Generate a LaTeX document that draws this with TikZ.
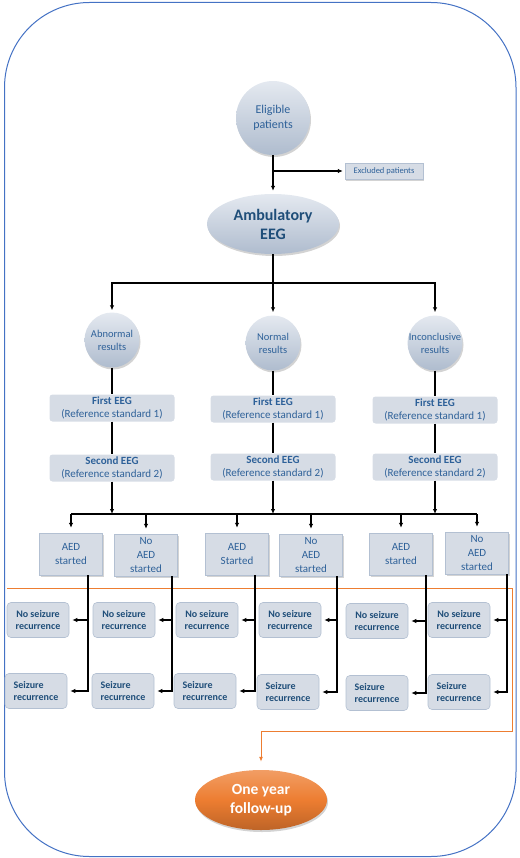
\documentclass[tikz,border=0pt]{standalone}
\usepackage{fontspec}
\setmainfont{Carlito}
\usetikzlibrary{shapes.geometric,arrows.meta,shadows}
\definecolor{boxfill}{HTML}{D6DCE5}
\definecolor{boxline}{HTML}{B3C0D2}
\definecolor{roundtop}{HTML}{E4E9F0}
\definecolor{roundbot}{HTML}{AFBCCE}
\definecolor{darkblue}{HTML}{1F4E79}
\definecolor{midblue}{HTML}{2E6199}
\definecolor{followorange}{HTML}{ED7D31}
\definecolor{framecol}{HTML}{4472C4}
\begin{document}
\begin{tikzpicture}[x=1pt, y=-1pt,
  every node/.style = {align=center, inner sep=0pt, text=darkblue},
  shade/.style = {drop shadow={opacity=0.35, shadow xshift=1pt, shadow yshift=-2pt}},
  round/.style = {shape=circle, shade, inner sep=-6pt, minimum size=55pt,
    top color=roundtop, bottom color=roundbot, text=midblue,
    font=\fontsize{10.5}{13}\selectfont},
  oval/.style = {shape=ellipse, shade, minimum width=132pt, minimum height=60pt,
    top color=roundtop, bottom color=roundbot},
  refbox/.style = {rectangle, rounded corners=3pt, fill=boxfill,
    minimum width=125pt, minimum height=27pt, text=midblue,
    font=\fontsize{11}{13.5}\selectfont},
  aedbox/.style = {rectangle, shade, fill=boxfill, draw=boxline, line width=0.4pt,
    minimum width=63pt, minimum height=42pt, text=midblue,
    font=\fontsize{11}{14}\selectfont},
  outbox/.style = {rectangle, rounded corners=4pt, fill=boxfill, draw=boxline,
    line width=0.6pt, minimum width=62pt, minimum height=35pt,
    font=\bfseries\fontsize{10}{12}\selectfont},
  seizbox/.style = {outbox, align=left},
  link/.style = {line width=1.1pt},
  arr/.style = {link, -{Latex[length=5pt,width=4.5pt]}}]
\useasboundingbox (0,0) rectangle (519,858);
\draw[framecol, line width=1pt, rounded corners=85pt] (4.5,2.5) rectangle (516,856.5);

\node[round, minimum size=74pt, font=\fontsize{12}{14.5}\selectfont] (elig) at (273,118) {Eligible\\patients};
\node[rectangle, shade, fill=boxfill, draw=boxline, line width=0.4pt,
  minimum width=78pt, minimum height=16pt, text=midblue,
  font=\fontsize{8.5}{10}\selectfont] (excl) at (384,171) {Excluded patients};
\node[oval, font=\bfseries\fontsize{16}{19}\selectfont] (amb) at (273,224) {Ambulatory\\EEG};

\node[round] (abn) at (112,340) {Abnormal\\results};
\node[round] (norm) at (273,343) {Normal\\results};
\node[round] (inc) at (435,343) {Inconclusive\\results};

\node[refbox] (first1) at (112,408) {\textbf{First EEG}\\(Reference standard 1)};
\node[refbox] (first2) at (273,409) {\textbf{First EEG}\\(Reference standard 1)};
\node[refbox] (first3) at (435,410) {\textbf{First EEG}\\(Reference standard 1)};
\node[refbox] (second1) at (112,468) {\textbf{Second EEG}\\(Reference standard 2)};
\node[refbox] (second2) at (273,467) {\textbf{Second EEG}\\(Reference standard 2)};
\node[refbox] (second3) at (435,467) {\textbf{Second EEG}\\(Reference standard 2)};

\node[aedbox] (aed1) at (71,554) {AED\\started};
\node[aedbox] (aed2) at (146,555) {No\\AED\\started};
\node[aedbox] (aed3) at (237,554) {AED\\Started};
\node[aedbox] (aed4) at (311,555) {No\\AED\\started};
\node[aedbox] (aed5) at (401,554) {AED\\started};
\node[aedbox] (aed6) at (477,553) {No\\AED\\started};

\node[outbox] (noseiz1) at (38,620) {No seizure\\recurrence};
\node[outbox] (noseiz2) at (124,620) {No seizure\\recurrence};
\node[outbox] (noseiz3) at (207,620) {No seizure\\recurrence};
\node[outbox] (noseiz4) at (290,620) {No seizure\\recurrence};
\node[outbox] (noseiz5) at (377,621) {No seizure\\recurrence};
\node[outbox] (noseiz6) at (459,620) {No seizure\\recurrence};
\node[seizbox] (seiz1) at (36,691) {Seizure\\recurrence};
\node[seizbox] (seiz2) at (123,691) {Seizure\\recurrence};
\node[seizbox] (seiz3) at (205,691) {Seizure\\recurrence};
\node[seizbox] (seiz4) at (288,692) {Seizure\\recurrence};
\node[seizbox] (seiz5) at (377,693) {Seizure\\recurrence};
\node[seizbox] (seiz6) at (459,692) {Seizure\\recurrence};

\node[oval, top color=followorange!75!white, bottom color=followorange!80!black,
  middle color=followorange, text=white,
  font=\bfseries\fontsize{15.5}{19}\selectfont] (followup) at (261,800) {One year\\follow-up};

\coordinate (split) at (273,283);
\coordinate (join) at (273,514);
\coordinate (c1) at (88,692);
\coordinate (c2) at (172,692);
\coordinate (c3) at (255,692);
\coordinate (c4) at (337,692);
\coordinate (c5) at (426,692);
\coordinate (c6) at (507,692);
\coordinate (oleft) at (7,588);
\coordinate (oright) at (512,731);

\draw[arr, shorten >=3pt] (elig) -- (amb);
\draw[arr, shorten >=2pt] (elig.south |- excl.west) -- (excl.west);
\draw[link] (amb) -- (split);
\draw[arr, shorten >=3pt] (split) -- (norm);
\draw[arr, shorten >=2pt] (split) -| (abn);
\draw[arr, shorten >=3pt] (split) -| (inc);

\draw[link] (abn) -- (first1) -- (second1);
\draw[link] (norm) -- (first2) -- (second2);
\draw[link] (inc) -- (first3) -- (second3);
\draw[arr] (second1) -- (second1 |- join);
\draw[arr] (second2) -- (join);
\draw[arr] (second3) -- (second3 |- join);
\draw[link] (aed1.north |- join) -- (aed6.north |- join);
\draw[arr, shorten >=5pt] (aed1.north |- join) -- (aed1.north);
\draw[arr, shorten >=5pt] (aed2.north |- join) -- (aed2.north);
\draw[arr, shorten >=5pt] (aed3.north |- join) -- (aed3.north);
\draw[arr, shorten >=5pt] (aed4.north |- join) -- (aed4.north);
\draw[arr, shorten >=5pt] (aed5.north |- join) -- (aed5.north);
\draw[arr, shorten >=5pt] (aed6.north |- join) -- (aed6.north);

\draw[followorange, line width=1pt, -{Latex[length=5pt,width=4pt]}, shorten >=8pt]
  (oleft) -| (oright) -| (followup.north);

\draw[arr, shorten >=3pt] (aed1.south -| c1) |- (seiz1.east);
\draw[arr, shorten >=3pt] (noseiz1.east -| c1) -- (noseiz1.east);
\draw[arr, shorten >=3pt] (aed2.south -| c2) |- (seiz2.east);
\draw[arr, shorten >=3pt] (noseiz2.east -| c2) -- (noseiz2.east);
\draw[arr, shorten >=3pt] (aed3.south -| c3) |- (seiz3.east);
\draw[arr, shorten >=3pt] (noseiz3.east -| c3) -- (noseiz3.east);
\draw[arr, shorten >=3pt] (aed4.south -| c4) |- (seiz4.east);
\draw[arr, shorten >=3pt] (noseiz4.east -| c4) -- (noseiz4.east);
\draw[arr, shorten >=3pt] (aed5.south -| c5) |- (seiz5.east);
\draw[arr, shorten >=3pt] (noseiz5.east -| c5) -- (noseiz5.east);
\draw[arr, shorten >=3pt] (aed6.south -| c6) |- (seiz6.east);
\draw[arr, shorten >=3pt] (noseiz6.east -| c6) -- (noseiz6.east);
\end{tikzpicture}
\end{document}
